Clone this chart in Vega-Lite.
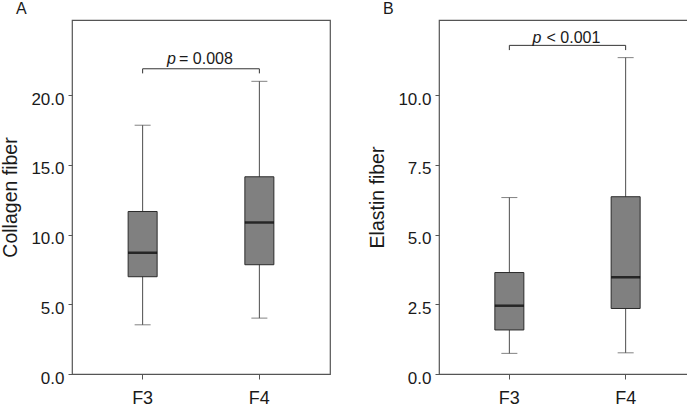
{
  "$schema": "https://vega.github.io/schema/vega-lite/v6.json",
  "padding": 0,
  "background": "white",
  "spacing": 36,
  "datasets": {
    "collagen": [
      {"group": "F3", "lower": 3.53, "q1": 6.98, "median": 8.7, "q3": 11.66, "upper": 17.85},
      {"group": "F4", "lower": 4.01, "q1": 7.84, "median": 10.87, "q3": 14.15, "upper": 21.0}
    ],
    "elastin": [
      {"group": "F3", "lower": 0.74, "q1": 1.58, "median": 2.45, "q3": 3.64, "upper": 6.33},
      {"group": "F4", "lower": 0.76, "q1": 2.35, "median": 3.47, "q3": 6.36, "upper": 11.35}
    ],
    "bracketA": [
      {"group": "F3", "y": 21.57, "order": 1},
      {"group": "F3", "y": 21.9, "order": 2},
      {"group": "F4", "y": 21.9, "order": 3},
      {"group": "F4", "y": 21.57, "order": 4}
    ],
    "bracketB": [
      {"group": "F3", "y": 11.62, "order": 1},
      {"group": "F3", "y": 11.79, "order": 2},
      {"group": "F4", "y": 11.79, "order": 3},
      {"group": "F4", "y": 11.62, "order": 4}
    ],
    "labelA": [{"group": "F3", "y": 22.27, "p": "p", "rest": "= 0.008"}],
    "labelB": [{"group": "F3", "y": 11.89, "p": "p", "rest": "< 0.001"}]
  },
  "config": {
    "font": "Liberation Sans",
    "view": {"stroke": "#555555", "strokeWidth": 1.2},
    "axis": {
      "domain": false,
      "grid": false,
      "tickColor": "#555555",
      "labelColor": "#1a1a1a",
      "titleColor": "#1a1a1a",
      "labelFont": "Liberation Sans",
      "titleFont": "Liberation Sans",
      "titleFontWeight": "normal"
    },
    "title": {"font": "Liberation Sans", "fontWeight": "normal", "fontSize": 16, "color": "#1a1a1a"}
  },
  "hconcat": [
    {
      "width": 258,
      "height": 354,
      "title": {"text": "A", "anchor": "start", "frame": "group", "dx": -56, "offset": 3},
      "encoding": {
        "x": {
          "field": "group", "type": "nominal",
          "scale": {"type": "band", "paddingInner": 0, "paddingOuter": 0.105},
          "axis": {"title": null, "labelAngle": 0, "labelFontSize": 18, "tickSize": 5, "labelPadding": 10}
        }
      },
      "layer": [
        {
          "data": {"name": "collagen"},
          "mark": {"type": "rule", "color": "#4d4d4d", "strokeWidth": 1},
          "encoding": {
            "y": {
              "field": "lower", "type": "quantitative", "title": "Collagen fiber",
              "scale": {"domain": [0, 25.4], "nice": false, "zero": false},
              "axis": {"values": [0, 5, 10, 15, 20], "format": ".1f", "labelFontSize": 17, "titleFontSize": 19.5, "tickSize": 4, "labelPadding": 4, "labelOffset": 4, "titlePadding": 10}
            },
            "y2": {"field": "upper"}
          }
        },
        {
          "data": {"name": "collagen"},
          "mark": {"type": "tick", "color": "#4d4d4d", "size": 16, "thickness": 1},
          "encoding": {"y": {"field": "upper", "type": "quantitative", "title": "Collagen fiber"}}
        },
        {
          "data": {"name": "collagen"},
          "mark": {"type": "tick", "color": "#4d4d4d", "size": 16, "thickness": 1},
          "encoding": {"y": {"field": "lower", "type": "quantitative", "title": "Collagen fiber"}}
        },
        {
          "data": {"name": "collagen"},
          "mark": {"type": "bar", "size": 29, "fill": "#808080", "stroke": "#2b2b2b", "strokeWidth": 1},
          "encoding": {"y": {"field": "q1", "type": "quantitative", "title": "Collagen fiber"}, "y2": {"field": "q3"}}
        },
        {
          "data": {"name": "collagen"},
          "mark": {"type": "tick", "color": "#000000", "size": 29, "thickness": 2.5},
          "encoding": {"y": {"field": "median", "type": "quantitative", "title": "Collagen fiber"}}
        },
        {
          "data": {"name": "bracketA"},
          "mark": {"type": "line", "color": "#333333", "strokeWidth": 1},
          "encoding": {"y": {"field": "y", "type": "quantitative", "title": "Collagen fiber"}, "order": {"field": "order", "type": "quantitative"}}
        },
        {
          "data": {"name": "labelA"},
          "mark": {"type": "text", "align": "right", "baseline": "alphabetic", "fontStyle": "italic", "fontSize": 16, "dx": -25, "color": "#1a1a1a"},
          "encoding": {
            "x": {"field": "group", "type": "nominal", "bandPosition": 1},
            "y": {"field": "y", "type": "quantitative", "title": "Collagen fiber"},
            "text": {"field": "p"}
          }
        },
        {
          "data": {"name": "labelA"},
          "mark": {"type": "text", "align": "left", "baseline": "alphabetic", "fontSize": 16, "dx": -22, "color": "#1a1a1a"},
          "encoding": {
            "x": {"field": "group", "type": "nominal", "bandPosition": 1},
            "y": {"field": "y", "type": "quantitative", "title": "Collagen fiber"},
            "text": {"field": "rest"}
          }
        }
      ]
    },
    {
      "width": 257,
      "height": 354,
      "title": {"text": "B", "anchor": "start", "frame": "group", "dx": -56, "offset": 3},
      "encoding": {
        "x": {
          "field": "group", "type": "nominal",
          "scale": {"type": "band", "paddingInner": 0, "paddingOuter": 0.105},
          "axis": {"title": null, "labelAngle": 0, "labelFontSize": 18, "tickSize": 5, "labelPadding": 10}
        }
      },
      "layer": [
        {
          "data": {"name": "elastin"},
          "mark": {"type": "rule", "color": "#4d4d4d", "strokeWidth": 1},
          "encoding": {
            "y": {
              "field": "lower", "type": "quantitative", "title": "Elastin fiber",
              "scale": {"domain": [0, 12.7], "nice": false, "zero": false},
              "axis": {"values": [0, 2.5, 5, 7.5, 10], "format": ".1f", "labelFontSize": 17, "titleFontSize": 19.5, "tickSize": 4, "labelPadding": 4, "labelOffset": 4, "titlePadding": 10}
            },
            "y2": {"field": "upper"}
          }
        },
        {
          "data": {"name": "elastin"},
          "mark": {"type": "tick", "color": "#4d4d4d", "size": 16, "thickness": 1},
          "encoding": {"y": {"field": "upper", "type": "quantitative", "title": "Elastin fiber"}}
        },
        {
          "data": {"name": "elastin"},
          "mark": {"type": "tick", "color": "#4d4d4d", "size": 16, "thickness": 1},
          "encoding": {"y": {"field": "lower", "type": "quantitative", "title": "Elastin fiber"}}
        },
        {
          "data": {"name": "elastin"},
          "mark": {"type": "bar", "size": 29, "fill": "#808080", "stroke": "#2b2b2b", "strokeWidth": 1},
          "encoding": {"y": {"field": "q1", "type": "quantitative", "title": "Elastin fiber"}, "y2": {"field": "q3"}}
        },
        {
          "data": {"name": "elastin"},
          "mark": {"type": "tick", "color": "#000000", "size": 29, "thickness": 2.5},
          "encoding": {"y": {"field": "median", "type": "quantitative", "title": "Elastin fiber"}}
        },
        {
          "data": {"name": "bracketB"},
          "mark": {"type": "line", "color": "#333333", "strokeWidth": 1},
          "encoding": {"y": {"field": "y", "type": "quantitative", "title": "Elastin fiber"}, "order": {"field": "order", "type": "quantitative"}}
        },
        {
          "data": {"name": "labelB"},
          "mark": {"type": "text", "align": "right", "baseline": "alphabetic", "fontStyle": "italic", "fontSize": 16, "dx": -26, "color": "#1a1a1a"},
          "encoding": {
            "x": {"field": "group", "type": "nominal", "bandPosition": 1},
            "y": {"field": "y", "type": "quantitative", "title": "Elastin fiber"},
            "text": {"field": "p"}
          }
        },
        {
          "data": {"name": "labelB"},
          "mark": {"type": "text", "align": "left", "baseline": "alphabetic", "fontSize": 16, "dx": -21, "color": "#1a1a1a"},
          "encoding": {
            "x": {"field": "group", "type": "nominal", "bandPosition": 1},
            "y": {"field": "y", "type": "quantitative", "title": "Elastin fiber"},
            "text": {"field": "rest"}
          }
        }
      ]
    }
  ]
}
